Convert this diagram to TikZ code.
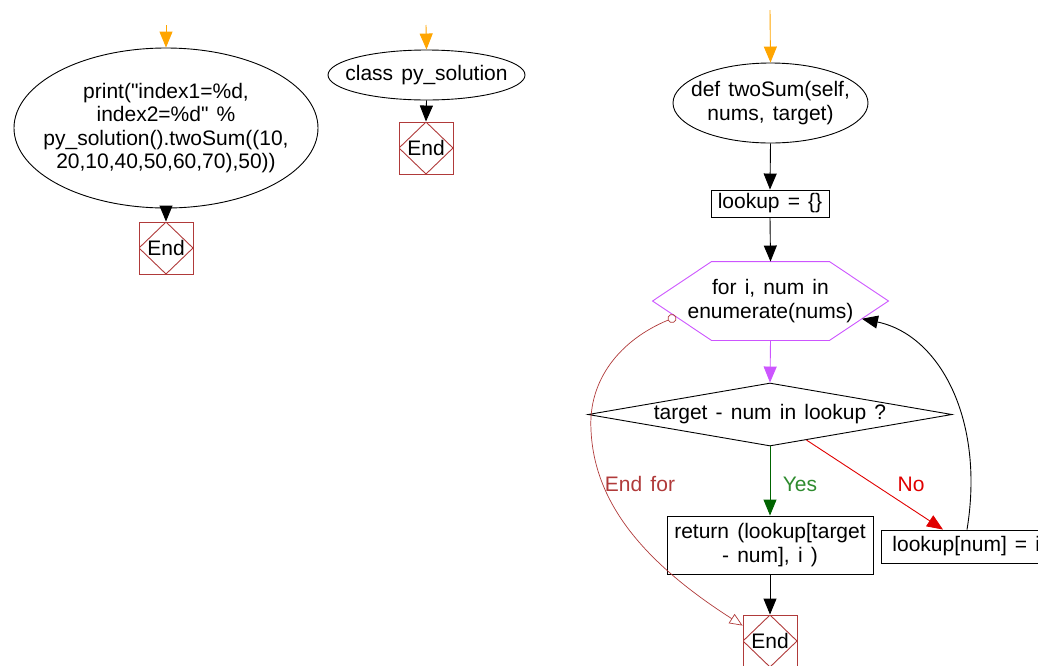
\documentclass[tikz,border=0pt]{standalone}
\usepackage{fontspec}
\setmainfont[WordSpace=1.4]{Liberation Sans}
\usetikzlibrary{shapes.geometric,arrows.meta,calc}

\definecolor{endred}{HTML}{B03A3A}
\definecolor{inorange}{HTML}{FFA500}
\definecolor{looppurple}{HTML}{CC55FF}
\definecolor{yesgreen}{HTML}{006400}
\definecolor{yestext}{HTML}{2E8B2E}
\definecolor{nored}{HTML}{E00000}

\tikzset{
  flow/.style={-{Triangle[length=16pt,width=13pt]}},
  startell/.style={rectangle, inner sep=0pt, align=center},
  procbox/.style={draw, rectangle, inner sep=0pt, align=center},
  endbox/.style={draw=endred, rectangle, minimum width=54pt, minimum height=52pt, inner sep=0pt,
    path picture={\draw[endred] (path picture bounding box.north) -- (path picture bounding box.east)
      -- (path picture bounding box.south) -- (path picture bounding box.west) -- cycle;}}
}

\begin{document}
\begin{tikzpicture}[x=1pt, y=-1pt, line width=0.9pt, font=\fontsize{21}{23.5}\selectfont]
    \useasboundingbox (0,0) rectangle (1038,665);

    % Main call
    \coordinate (in1) at (166,25);
    \node[startell, minimum width=304pt, minimum height=160pt] (print) at (166,128)
        {print(\textquotedbl index1=\%d,\\ index2=\%d\textquotedbl{} \%\\ py\_solution().twoSum((10,\\ 20,10,40,50,60,70),50))};
    \draw (print.center) ellipse (152pt and 80pt);
    \node[endbox] (end1) at (166,248) {End};
    \draw[flow, inorange] (in1) -- (print.north);
    \draw[flow] (print.south) -- (end1.north);

    % Class
    \coordinate (in2) at (426,25);
    \node[startell, minimum width=197pt, minimum height=50pt] (cls) at (426.5,75) {class py\_solution};
    \draw (cls.center) ellipse (98.5pt and 25pt);
    \node[endbox] (end2) at (426,148) {End};
    \draw[flow, inorange] (in2) -- (cls.north);
    \draw[flow] (cls.south) -- (end2.north);

    % Method
    \coordinate (in3) at (770,10);
    \node[startell, minimum width=195pt, minimum height=80pt] (def) at (770.5,103) {def twoSum(self,\\ nums, target)};
    \draw (def.center) ellipse (97.5pt and 40pt);
    \node[procbox, minimum width=118pt, minimum height=27pt] (lookup) at (770,203.5) {lookup = \{\}};
    \node[minimum width=235pt, minimum height=78pt, inner sep=0pt, align=center] (loop) at (770.5,301)
        {for i, num in\\ enumerate(nums)};
    \draw[looppurple] (loop.west) -- ([xshift=59pt]loop.north west) -- ([xshift=-59pt]loop.north east)
        -- (loop.east) -- ([xshift=-59pt]loop.south east) -- ([xshift=59pt]loop.south west) -- cycle;
    \node[draw, diamond, aspect=5.8, inner sep=0pt, minimum width=364pt, minimum height=63pt] (test) at (770,414.5)
        {target - num in lookup ?};
    \node[procbox, minimum width=206pt, minimum height=58pt] (ret) at (770,545) {return (lookup[target\\ - num], i )};
    \node[endbox] (end3) at (770,641) {End};
    \node[procbox, anchor=west, minimum height=33pt, inner xsep=11pt] (store) at (881,546.5) {lookup[num] = i};

    \draw[flow, inorange] (in3) -- (def.north);
    \draw[flow] (def.south) -- (lookup.north);
    \draw[flow] (lookup.south) -- (loop.north);
    \draw[flow, looppurple] (loop.south) -- (test.north);

    % Yes / No
    \draw[flow, yesgreen] (test.south) -- (ret.north);
    \node[text=yestext] (yes) at (800,484) {Yes};
    \draw[flow, nored] ($(test.south)!0.2!(test.east)$) -- ([xshift=62pt]store.north west);
    \node[text=nored] (no) at (911,484) {No};
    \draw[flow] (ret.south) -- (end3.north);

    % Back to loop
    \coordinate (back) at ($(loop.east)!0.45!([xshift=-59pt]loop.south east)$);
    \draw[flow] ([xshift=86pt]store.north west) .. controls (985,420) and (940,335) .. (back);

    % End for
    \coordinate (leave) at ($(loop.west)!0.4!([xshift=59pt]loop.south west)$);
    \draw[endred, line width=0.7pt, {Circle[open,length=9pt]}-{Triangle[open,length=13pt,width=11pt]}] (leave)
        .. controls (620,340) and (588,380) .. (591,430)
        .. controls (594,500) and (640,560) .. ([yshift=-11pt]end3.north west);
    \node[text=endred] (endfor) at (640,484) {End for};
\end{tikzpicture}
\end{document}
